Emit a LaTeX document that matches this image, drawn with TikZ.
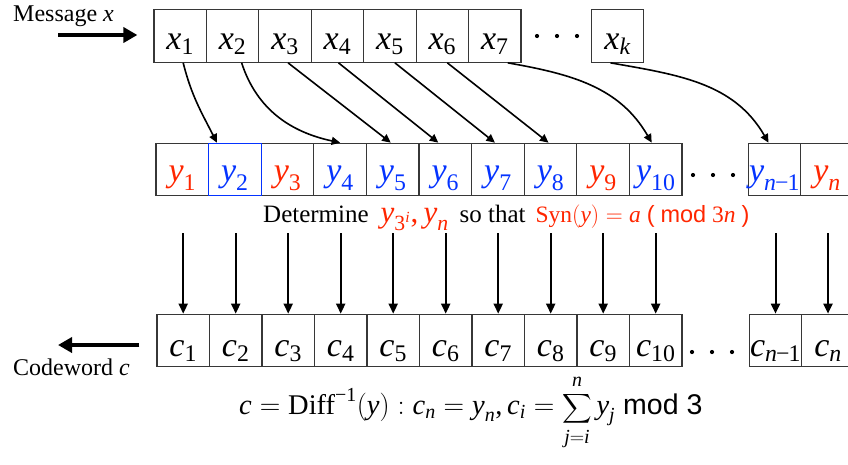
\RequirePackage{fix-cm}
\documentclass[tikz,border=0pt]{standalone}
\usepackage{amsmath}
\usepackage{graphicx}
\usepackage{fontspec}
\setmainfont{Liberation Serif}
\setsansfont{Liberation Sans}
\usetikzlibrary{arrows.meta}
\definecolor{kred}{RGB}{255,38,0}
\definecolor{kblue}{RGB}{4,51,255}
\definecolor{boxgray}{RGB}{55,55,55}
\DeclareFontFamily{OMX}{cmex}{}
\DeclareFontShape{OMX}{cmex}{m}{n}{<-> cmex10}{}
\newcommand\mi[1]{\text{\itshape #1}}
\newcommand\tx[1]{\text{\upshape #1}}
\tikzset{
  cell/.style={draw=boxgray, line width=1.2pt, inner sep=0pt,
    minimum height=52.5pt, font=\fontsize{34}{36}\selectfont},
  xcell/.style={cell, minimum width=52.4pt, text height=30pt, text depth=4pt},
  ycell/.style={cell, minimum width=52.6pt, text height=29pt, text depth=5pt},
  ccell/.style={cell, minimum width=52.5pt, text height=33pt, text depth=2pt},
  carrow/.style={line width=1.6pt, -{Triangle[length=8.5pt,width=8pt]}},
  varrow/.style={line width=2pt, -{Triangle[length=10pt,width=9pt]}},
  bigarrow/.style={line width=4pt, -{Triangle[length=14pt,width=15pt]}},
  label/.style={inner sep=0pt, font=\fontsize{24}{28}\selectfont},
}
\begin{document}
\begin{tikzpicture}[x=1pt,y=1pt]
\useasboundingbox (0,0) rectangle (848,-464);
\clip (0,0) rectangle (848,-464);
% top row
\foreach \i in {1,...,7}
  \node[xcell] (x\i) at ({180.2+52.43*(\i-1)},-36) {$\mi{x}_{\tx{\i}}$};
\node[xcell] (xk) at (617.5,-36) {$\mi{x}_{\mi{k}}$};
% middle row
\foreach \i/\c in {1/kred,2/kblue,3/kred,4/kblue,5/kblue,6/kblue,7/kblue,8/kblue,9/kred,10/kblue}
  \node[ycell, text=\c] (y\i) at ({182.3+52.6*(\i-1)},-169.5) {$\mi{y}_{\tx{\i}}$};
\node[ycell, draw=kblue] at (y2) {};
\node[ycell, text=kblue] (yn1) at (774.5,-169.5) {$\mi{y}_{\mi{n}\kern-1pt\tx{−}\kern-1pt\tx{1}}$};
\node[ycell, text=kred] (yn) at (827.1,-169.5) {$\mi{y}_{\mi{n}}$};
% bottom row
\foreach \i in {1,...,10}
  \node[ccell] (c\i) at ({183.2+52.5*(\i-1)},-340.5) {$\mi{c}_{\tx{\i}}$};
\node[ccell] (cn1) at (775.5,-340.5) {$\mi{c}_{\mi{n}\kern-1pt\tx{−}\kern-1pt\tx{1}}$};
\node[ccell] (cn) at (828,-340.5) {$\mi{c}_{\mi{n}}$};
% dots
\foreach \y/\xa in {-36/537,-175/693,-352/692}{
  \foreach \k in {0,1,2} \fill (\xa+\k*20,\y) circle (2.1);
}
% labels
\node[label, anchor=base west] (msg) at (13,-21) {Message \textit{x}};
\node[label, anchor=base west] (cw) at (13,-375) {Codeword \textit{c}};
\coordinate (msgstart) at (58,-35);
\coordinate (cwend) at (58,-345);
\draw[bigarrow, shorten >=16pt] (msgstart) -- (msgstart -| x1.west);
\draw[bigarrow, shorten <=17pt] (cwend -| c1.west) -- (cwend);
% curved arrows x -> y
\draw[carrow] ([xshift=3pt]x1.south) to[out=-76,in=117] ([xshift=-18pt]y2.north);
\draw[carrow] ([xshift=9pt]x2.south) to[out=-72,in=168] (y4.north);
\draw[carrow] ([xshift=3pt]x3.south) -- ([xshift=-2pt]y5.north);
\draw[carrow] ([xshift=1pt]x4.south) -- ([xshift=-7pt]y6.north);
\draw[carrow] ([xshift=5pt]x5.south) -- ([xshift=-3pt]y7.north);
\draw[carrow] ([xshift=5pt]x6.south) -- ([xshift=-2pt]y8.north);
\draw[carrow] ([xshift=13pt]x7.south) to[out=-10,in=120] ([xshift=-4pt]y10.north);
\draw[carrow] ([xshift=-7pt]xk.south) to[out=-10,in=120] ([xshift=-6pt]yn1.north);
% determine text
\node[label, anchor=base west, font=\fontsize{25}{28}\selectfont] (det) at (263,-222.7)
  {Determine\hspace{12pt}{\color{kred}\fontsize{31}{32}\selectfont$\mi{y}_{\tx{3}^{\mi{i}}}\tx{,}\mkern3mu\mi{y}_{\mi{n}}$}\hspace{11pt}so that\hspace{10pt}{\color{kred}\fontsize{23.5}{28}\selectfont Syn$(\mi{y})=\mi{a}$ \textsf{(} \textsf{mod} 3\textit{n} \textsf{)}}};
% vertical arrows
\foreach \i in {1,...,10}
  \draw[varrow, shorten <=37pt] (y\i.south -| c\i.north) -- (c\i.north);
\draw[varrow, shorten <=37pt] (yn1.south -| cn1.north) -- (cn1.north);
\draw[varrow, shorten <=37pt] (yn.south -| cn.north) -- (cn.north);
% formula
\node[inner sep=0pt, anchor=base west, font=\fontsize{28.5}{32}\selectfont] (formula) at (239,-414)
  {$\mi{c}=\tx{Diff}^{\tx{−1}}(\mi{y}) : \mi{c}_{\mi{n}}=\mi{y}_{\mi{n}}\tx{,}\,\mi{c}_{\mi{i}}=\mathop{\raisebox{0pt}{\scalebox{0.72}{$\displaystyle\sum$}}}\limits_{\mi{j}=\mi{i}}^{\mi{n}}\mi{y}_{\mi{j}}\;\textsf{mod 3}$};
\end{tikzpicture}
\end{document}
